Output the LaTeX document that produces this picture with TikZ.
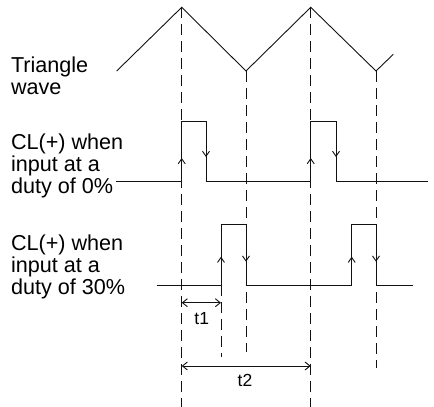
\documentclass[tikz,border=0pt]{standalone}
\usepackage{fontspec}
\setmainfont{Liberation Sans}
\usepackage{tikz}
\usetikzlibrary{arrows.meta}
\definecolor{wvblack}{HTML}{111111}

\tikzset{
  wave/.style={wvblack, line width=0.9pt},
  guide/.style={wvblack, line width=0.9pt, dash pattern=on 11pt off 6pt},
  edgetip/.style={-{Straight Barb[length=5pt,width=7pt]}, wvblack, line width=0.9pt},
  dim/.style={{Straight Barb[length=5pt,width=8pt]}-{Straight Barb[length=5pt,width=8pt]}, wvblack, line width=0.9pt},
  caption/.style={anchor=base west, align=left, inner sep=0pt,
    font=\fontsize{21.6}{21.7}\selectfont},
  tlabel/.style={inner sep=0pt, font=\fontsize{17.5}{18}\selectfont}
}

\begin{document}
\begin{tikzpicture}[x=1pt, y=-1pt]
  \useasboundingbox (0,0) rectangle (434,407);
  % Triangle wave
  \draw[wave] (116.7,71) -- (181.7,7.3) -- (246,71) -- (310.7,7.3) -- (376,71) -- (393.3,54.3);
  % Guide lines from peaks and troughs
  \draw[guide] (181.7,7.3) -- (181.7,407);
  \draw[guide] (246,71) -- (246,351.7);
  \draw[guide] (310.7,7.3) -- (310.7,407);
  \draw[guide] (376,71) -- (376,368);
  \draw[guide] (221,285) -- (221,356.7);
  % CL(+) at duty 0%
  \draw[wave] (116,181.7) -- (181.7,181.7) -- (181.7,121) -- (206,121) -- (206,181.7)
    -- (310.7,181.7) -- (310.7,121) -- (336,121) -- (336,181.7) -- (428,181.7);
  % CL(+) at duty 30%
  \draw[wave] (156.7,285) -- (221,285) -- (221,224.3) -- (246,224.3) -- (246,285)
    -- (351.7,285) -- (351.7,224.3) -- (376,224.3) -- (376,285) -- (412.7,285);
  % Edge direction marks
  \foreach \x in {181.7, 310.7} {
    \draw[edgetip] (\x,175) -- (\x,158);
  }
  \foreach \x in {206, 336} {
    \draw[edgetip] (\x,140) -- (\x,157);
  }
  \foreach \x in {221, 351.7} {
    \draw[edgetip] (\x,274) -- (\x,256.7);
  }
  \foreach \x in {246, 376} {
    \draw[edgetip] (\x,244) -- (\x,261.7);
  }
  % Time spans
  \coordinate (t1a) at (181.7,302.7);
  \coordinate (t1b) at (221,302.7);
  \coordinate (t2a) at (181.7,366);
  \coordinate (t2b) at (310.7,366);
  \draw[dim] (t1a) -- (t1b);
  \draw[dim] (t2a) -- (t2b);
  \node[tlabel] (t1) at (201.7,319) {t1};
  \node[tlabel] (t2) at (245,380) {t2};
  % Captions (base sits on the last line)
  \node[caption] (tri) at (10.8,94.5) {Triangle\\wave};
  \node[caption] (cl0) at (10.8,193.3) {CL(+) when\\input at a\\duty of 0\%};
  \node[caption] (cl30) at (10.8,294) {CL(+) when\\input at a\\duty of 30\%};
\end{tikzpicture}
\end{document}
